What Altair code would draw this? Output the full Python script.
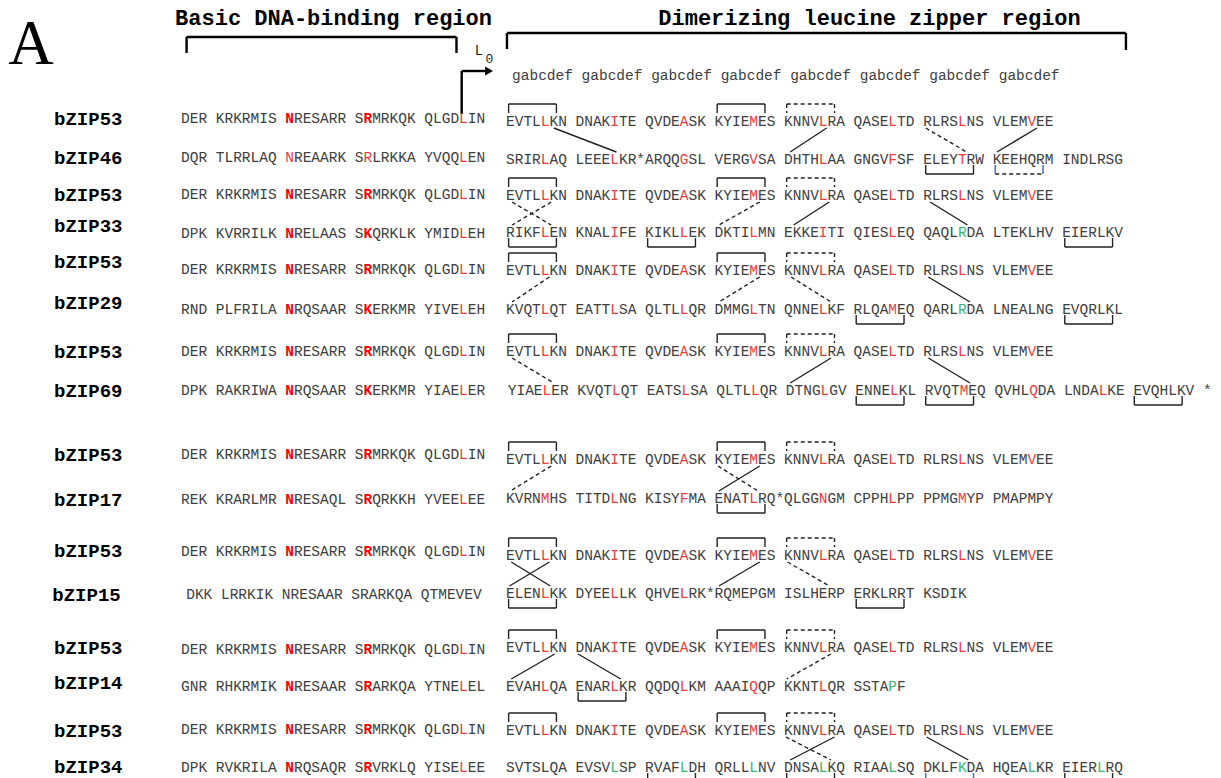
import altair as alt
import pandas as pd

# ------------------------------------------------------------------ data
names = ["bZIP53", "bZIP46", "bZIP53", "bZIP33", "bZIP53", "bZIP29", "bZIP53", "bZIP69",
         "bZIP53", "bZIP17", "bZIP53", "bZIP15", "bZIP53", "bZIP14", "bZIP53", "bZIP34"]
label_y = [119, 158, 195, 226, 262, 303, 352, 391, 455, 500, 551, 595, 648, 683, 731, 767]
basic_y = [119, 158, 195, 234, 270, 310, 352, 391, 455, 500, 552, 595, 650, 687, 730, 768]
zip_y = [122, 160, 196, 233, 271, 310, 352, 391, 460, 499, 556, 594, 648, 687, 731, 768]
label_shift = [0, 0, 0, 0, 0, 0, 0, 0, 0, 0, 0, -0.2, 0, 0, 0, 0]

B53 = "DER KRKRMIS NRESARR SRMRKQK QLGDLIN"
Z53 = "EVTLLKN DNAKITE QVDEASK KYIEMES KNNVLRA QASELTD RLRSLNS VLEMVEE"
basic = [B53, "DQR TLRRLAQ NREAARK SRLRKKA YVQQLEN",
         B53, "DPK KVRRILK NRELAAS SKQRKLK YMIDLEH",
         B53, "RND PLFRILA NRQSAAR SKERKMR YIVELEH",
         B53, "DPK RAKRIWA NRQSAAR SKERKMR YIAELER",
         B53, "REK KRARLMR NRESAQL SRQRKKH YVEELEE",
         B53, "DKK LRRKIK NRESAAR SRARKQA QTMEVEV",
         B53, "GNR RHKRMIK NRESAAR SRARKQA YTNELEL",
         B53, "DPK RVKRILA NRQSAQR SRVRKLQ YISELEE"]
basic_shift = [0, 0, 0, 0, 0, 0, 0, 0, 0, 0, 0, 0.6, 0, 0, 0, 0]
basic_bold = [[12, 21], [], [12, 21], [12, 21], [12, 21], [12, 21], [12, 21], [12, 21],
              [12, 21], [12, 21], [12, 21], [], [12, 21], [12, 21], [12, 21], [12, 21]]
basic_red = [[32], [12, 21, 32], [32], [32], [32], [32], [32], [32],
             [32], [32], [32], [], [32], [32], [32], [32]]

zipper = [Z53, "SRIRLAQ LEEELKR*ARQQGSL VERGVSA DHTHLAA GNGVFSF ELEYTRW KEEHQRM INDLRSG",
          Z53, "RIKFLEN KNALIFE KIKLLEK DKTILMN EKKEITI QIESLEQ QAQLRDA LTEKLHV EIERLKV",
          Z53, "KVQTLQT EATTLSA QLTLLQR DMMGLTN QNNELKF RLQAMEQ QARLRDA LNEALNG EVQRLKL",
          Z53, "YIAELER KVQTLQT EATSLSA QLTLLQR DTNGLGV ENNELKL RVQTMEQ QVHLQDA LNDALKE EVQHLKV *",
          Z53, "KVRNMHS TITDLNG KISYFMA ENATLRQ*QLGGNGM CPPHLPP PPMGMYP PMAPMPY",
          Z53, "ELENLKK DYEELLK QHVELRK*RQMEPGM ISLHERP ERKLRRT KSDIK",
          Z53, "EVAHLQA ENARLKR QQDQLKM AAAIQQP KKNTLQR SSTAPF",
          Z53, "SVTSLQA EVSVLSP RVAFLDH QRLLLNV DNSALKQ RIAALSQ DKLFKDA HQEALKR EIERLRQ"]
zip_shift = [0, 0, 0, 0, 0, 0, 0, 0.2, 0, 0, 0, 0, 0, 0, 0, 0]
R53 = [4, 12, 20, 28, 36, 44, 52, 60]
zip_red = [R53, [4, 12, 20, 28, 36, 44, 52],
           R53, [4, 12, 20, 28, 36, 44],
           R53, [4, 12, 20, 28, 36, 44],
           R53, [4, 12, 20, 28, 36, 44, 52, 60, 68],
           R53, [4, 12, 20, 28, 36, 44, 52],
           R53, [4, 12, 20],
           R53, [4, 12, 20, 28, 36],
           R53, []]
zip_green = [[], [], [], [52], [], [52], [], [], [], [], [], [], [], [44], [], [12, 20, 28, 36, 44, 52, 60, 68]]

heptad = "gabcdef gabcdef gabcdef gabcdef gabcdef gabcdef gabcdef gabcdef"
heptad_y = 76
heptad_shift = 0.7

# brackets: (row, heptad start column, side, style)
brackets = []
for r in [0, 2, 4, 6, 8, 10, 12, 14]:
    brackets += [(r, 0, "above", "solid"), (r, 24, "above", "solid"), (r, 32, "above", "dashed")]
brackets += [(1, 48, "below", "solid"), (1, 56, "below", "blue"),
             (3, 0, "below", "solid"), (3, 16, "below", "solid"), (3, 64, "below", "solid"),
             (5, 40, "below", "solid"), (5, 64, "below", "solid"),
             (7, 40, "below", "solid"), (7, 48, "below", "solid"), (7, 72, "below", "solid"),
             (9, 24, "below", "solid"),
             (11, 0, "below", "solid"), (11, 40, "below", "solid"),
             (13, 8, "below", "solid"),
             (15, 16, "below", "solid"), (15, 32, "below", "solid"), (15, 48, "below", "blue"),
             (15, 64, "below", "solid")]

# connecting lines: (upper row, column in upper row, column in lower row, style)
links = [(0, 5.5, 12.7, "solid"), (0, 36.9, 32.7, "solid"), (0, 48.3, 53.0, "dashed"), (0, 61.1, 56.5, "solid"),
         (2, 0.7, 5.2, "dashed"), (2, 5.2, 0.7, "dashed"), (2, 29.2, 24.5, "dashed"), (2, 37.2, 33.1, "solid"),
         (2, 48.8, 53.1, "solid"),
         (4, 5.0, 0.7, "dashed"), (4, 29.2, 24.5, "dashed"), (4, 32.8, 37.4, "dashed"), (4, 48.6, 53.4, "solid"),
         (6, 0.7, 5.5, "dashed"), (6, 37.4, 32.7, "solid"), (6, 48.6, 53.4, "solid"),
         (8, 5.2, 0.5, "dashed"), (8, 29.2, 24.5, "solid"), (8, 24.4, 29.0, "dashed"),
         (10, 0.6, 5.1, "solid"), (10, 5.0, 0.4, "solid"), (10, 29.2, 24.5, "solid"), (10, 32.4, 37.2, "dashed"),
         (12, 5.6, 0.6, "solid"), (12, 8.3, 13.2, "solid"), (12, 37.4, 32.3, "dashed"),
         (14, 37.8, 32.7, "solid"), (14, 32.2, 37.4, "dashed"), (14, 48.4, 53.2, "solid")]

titles = ["Basic DNA-binding region", "Dimerizing leucine zipper region"]

# ------------------------------------------------------------------ layout constants
W, H = 1205, 770
CW = 8.69              # width of one residue column
COL0_PX = 181          # page x of first basic column
ZOFF = 37.4            # zipper column 0 in basic-column units
XMIN = (8 - COL0_PX) / CW
XMAX = XMIN + W / CW

RED = "#ff0000"
RED2 = "#f23a3a"
GREEN = "#3cb46e"
GRAY = "#404040"
BLUE = "#4a78b8"

# ------------------------------------------------------------------ build tables
chars = []
for i in range(len(names)):
    for c, ch in enumerate(basic[i]):
        if ch == " ":
            continue
        if c in basic_bold[i]:
            col, bold = RED, True
        elif c in basic_red[i]:
            col, bold = RED2, False
        else:
            col, bold = GRAY, False
        chars.append(dict(x=c + 0.5 + basic_shift[i], y=basic_y[i], ch=ch, color=col, bold=bold))
    for c, ch in enumerate(zipper[i]):
        if ch == " ":
            continue
        if c in zip_red[i]:
            col = RED2
        elif c in zip_green[i]:
            col = GREEN
        else:
            col = GRAY
        chars.append(dict(x=ZOFF + c + 0.5 + zip_shift[i], y=zip_y[i], ch=ch, color=col, bold=False))
for c, ch in enumerate(heptad):
    if ch != " ":
        chars.append(dict(x=ZOFF + c + 0.5 + heptad_shift, y=heptad_y, ch=ch, color=GRAY, bold=False))
chars_df = pd.DataFrame(chars)

labels_df = pd.DataFrame(dict(x=[-14.61 + s for s in label_shift], y=label_y, name=names))

segs = []
for r, g, side, style in brackets:
    xl, xr = ZOFF + g + 0.3, ZOFF + g + 5.8
    if side == "above":
        yb, yl = zip_y[r] - 18, zip_y[r] - 9
    else:
        yb, yl = zip_y[r] + 14, zip_y[r] + 5
    bar_style = "dashed" if style in ("dashed", "blue") else "solid"
    leg_style = "blue" if style == "blue" else style
    segs.append(dict(x=xl, x2=xr, y=yb, y2=yb, s=bar_style))
    segs.append(dict(x=xl, x2=xl, y=yb, y2=yl, s=leg_style))
    segs.append(dict(x=xr, x2=xr, y=yb, y2=yl, s=leg_style))
for r, cu, cl, style in links:
    segs.append(dict(x=ZOFF + cu, x2=ZOFF + cl, y=zip_y[r] + 6, y2=zip_y[r + 1] - 8, s=style))
segs_df = pd.DataFrame(segs)

# top annotation: region brackets and the L0 arrow (column units / page rows)
top_df = pd.DataFrame(dict(
    x=[0.64, 0.64, 31.7, 37.51, 37.51, 108.74, 32.3, 32.3],
    x2=[31.7, 0.64, 31.7, 108.74, 37.51, 108.74, 32.3, 35.0],
    y=[37, 37, 37, 33, 33, 33, 114, 71],
    y2=[37, 53, 53, 33, 49, 50, 71, 71]))
arrow_df = pd.DataFrame(dict(x=[35.45], y=[71]))
title_df = pd.DataFrame(dict(x=[17.55, 79.23], y=[18, 18], t=titles))
l_df = pd.DataFrame(dict(x=[34.3], y=[51], t=["L"]))
sub_df = pd.DataFrame(dict(x=[35.5], y=[59], t=["0"]))
a_df = pd.DataFrame(dict(x=[XMIN + 0.02], y=[64], t=["A"]))

# ------------------------------------------------------------------ chart
xs = alt.Scale(domain=[XMIN, XMAX], nice=False, zero=False)
ys = alt.Scale(domain=[8, 8 + H], nice=False, zero=False, reverse=True)
X = alt.X("x:Q", scale=xs, axis=None)
Y = alt.Y("y:Q", scale=ys, axis=None)
X2 = alt.X2("x2:Q")
Y2 = alt.Y2("y2:Q")

seq_normal = alt.Chart(chars_df).transform_filter("!datum.bold").mark_text(
    font="Liberation Mono", fontSize=14.5, align="center", baseline="middle"
).encode(x=X, y=Y, text="ch:N", color=alt.Color("color:N", scale=None))
seq_bold = alt.Chart(chars_df).transform_filter("datum.bold").mark_text(
    font="Liberation Mono", fontSize=14.5, fontWeight="bold", align="center", baseline="middle"
).encode(x=X, y=Y, text="ch:N", color=alt.Color("color:N", scale=None))

lab = alt.Chart(labels_df).mark_text(
    font="Liberation Mono", fontSize=19, fontWeight="bold", align="left", baseline="middle"
).encode(x=X, y=Y, text="name:N", color=alt.value("black"))

solid = alt.Chart(segs_df).transform_filter("datum.s == 'solid'").mark_rule(
    strokeWidth=1.4).encode(x=X, x2=X2, y=Y, y2=Y2, color=alt.value("#222222"))
dashed = alt.Chart(segs_df).transform_filter("datum.s == 'dashed'").mark_rule(
    strokeWidth=1.4, strokeDash=[4, 3]).encode(x=X, x2=X2, y=Y, y2=Y2, color=alt.value("#222222"))
blue = alt.Chart(segs_df).transform_filter("datum.s == 'blue'").mark_rule(
    strokeWidth=1.6).encode(x=X, x2=X2, y=Y, y2=Y2, color=alt.value(BLUE))

top = alt.Chart(top_df).mark_rule(strokeWidth=2.4).encode(
    x=X, x2=X2, y=Y, y2=Y2, color=alt.value("black"))
arrow = alt.Chart(arrow_df).mark_point(shape="triangle-right", filled=True, size=85, opacity=1).encode(
    x=X, y=Y, color=alt.value("black"))
ttl = alt.Chart(title_df).mark_text(
    font="Liberation Mono", fontSize=22, fontWeight="bold", align="center", baseline="middle"
).encode(x=X, y=Y, text="t:N", color=alt.value("black"))
bigA = alt.Chart(a_df).mark_text(
    font="Liberation Serif", fontSize=63, align="left", baseline="alphabetic"
).encode(x=X, y=Y, text="t:N", color=alt.value("black"))
l_main = alt.Chart(l_df).mark_text(
    font="Liberation Mono", fontSize=14, align="center", baseline="middle"
).encode(x=X, y=Y, text="t:N", color=alt.value("#222222"))
l_sub = alt.Chart(sub_df).mark_text(
    font="Liberation Mono", fontSize=13, align="center", baseline="middle"
).encode(x=X, y=Y, text="t:N", color=alt.value("#222222"))

chart = alt.layer(top, arrow, ttl, bigA, l_main, l_sub, solid, dashed, blue, seq_normal, seq_bold, lab).properties(
    width=W, height=H, padding=0, autosize=alt.AutoSizeParams(type="none"), background="white"
).configure_view(stroke=None)

chart.save("out.html", embed_options={"renderer": "svg", "actions": False})
